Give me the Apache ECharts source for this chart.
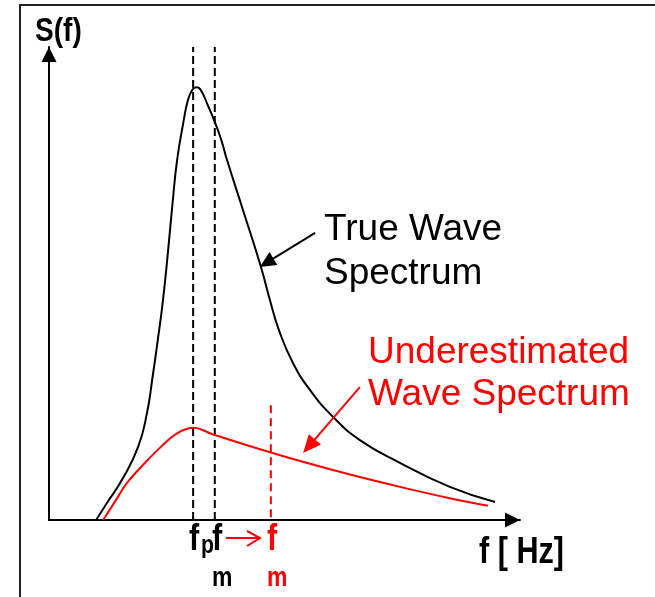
<!DOCTYPE html>
<html>
<head>
<meta charset="utf-8">
<title>S(f) spectrum</title>
<script src="https://cdn.jsdelivr.net/npm/echarts@6/dist/echarts.min.js"></script>
<style>
  html, body { margin: 0; padding: 0; background: #fff; }
  #chart { width: 655px; height: 597px; }
</style>
</head>
<body>
<div id="chart"></div>
<script>
// frequency (x) and spectral density (y), arbitrary units 0..100
const trueF = [10.0, 12.3, 15.5, 18.9, 20.8, 21.9, 23.1, 24.2, 25.3, 26.3, 27.2, 28.5, 29.5, 30.4, 31.2, 32.1, 33.8, 35.3, 36.6, 37.8, 41.2, 45.0, 46.9, 48.8, 51.8, 55.4, 60.3, 66.0, 74.5, 85.1, 94.7]
const trueS = [0, 3.6, 8.5, 15.4, 22.6, 29.6, 38.1, 46.5, 57.1, 67.7, 76.1, 83.9, 88.8, 90.9, 91.5, 91.1, 87.5, 83.9, 80.3, 76.1, 65.5, 53.5, 46.5, 40.2, 33.2, 27.5, 21.8, 16.9, 12.1, 7.0, 3.8]

const underF = [11.5, 14.2, 16.6, 20.4, 23.6, 27.2, 30.6, 34.8, 42.7, 53.9, 63.9, 74.5, 85.1, 93.2]
const underS = [0, 4.2, 7.9, 12.1, 15.3, 18.3, 19.5, 18.1, 15.6, 12.3, 9.6, 7.0, 4.6, 3.0]

// marker frequencies
const fp = 30.6
const fmTrue = 35.2
const fmUnder = 47.1
const fmUnderTop = 24.7

// annotation arrows [from, to] in data units
const trueArrow = [[56.5, 60.7], [46.2, 54.4]]
const underArrow = [[66.0, 28.1], [55.2, 15.6]]

const zip = (xs, ys) => xs.map((x, i) => [x, ys[i]])

const chart = echarts.init(document.getElementById('chart'))

const axisCommon = {
  type: 'value',
  min: 0,
  max: 100,
  axisLine: {
    show: true,
    lineStyle: { color: '#000', width: 2 },
    symbol: ['none', 'triangle'],
    symbolSize: [15, 15],
    symbolOffset: [0, -7.5]
  },
  axisTick: { show: false },
  axisLabel: { show: false },
  splitLine: { show: false }
}

const dashed = (x, y0, y1, color, dash) => ({
  type: 'line',
  data: [[x, y0], [x, y1]],
  symbol: 'none',
  silent: true,
  lineStyle: { color: color, width: 2, type: dash }
})

const bigFont = '37px "Liberation Sans", Arial, sans-serif'
// narrow bold look: Liberation Sans Bold squeezed horizontally
const narrow = (text, x, y, size, color) => ({
  type: 'text', x: x, y: y, scaleX: 0.85,
  style: { text: text, font: 'bold ' + size + 'px "Liberation Sans", Arial, sans-serif', fill: color, verticalAlign: 'middle' }
})

chart.setOption({
  animation: false,
  grid: { left: 49, right: 135, top: 47, bottom: 77 },
  xAxis: axisCommon,
  yAxis: axisCommon,
  series: [
    dashed(fp, 0, 100, '#000', [8, 4]),
    dashed(fmTrue, 0, 100, '#000', [8, 4]),
    dashed(fmUnder, 0.6, fmUnderTop, '#ff0000', [8, 5]),
    {
      name: 'True Wave Spectrum',
      type: 'line',
      data: zip(trueF, trueS),
      smooth: 0.5,
      symbol: 'none',
      lineStyle: { color: '#000', width: 2 },
      markLine: {
        silent: true,
        symbol: ['none', 'triangle'],
        symbolSize: [15, 16],
        label: { show: false },
        lineStyle: { color: '#000', width: 2, type: 'solid' },
        data: [[{ coord: trueArrow[0] }, { coord: trueArrow[1] }]]
      }
    },
    {
      name: 'Underestimated Wave Spectrum',
      type: 'line',
      data: zip(underF, underS),
      smooth: 0.4,
      symbol: 'none',
      lineStyle: { color: '#ff0000', width: 2 },
      markLine: {
        silent: true,
        symbol: ['none', 'triangle'],
        symbolSize: [16, 18],
        label: { show: false },
        lineStyle: { color: '#ff0000', width: 2, type: 'solid' },
        data: [[{ coord: underArrow[0] }, { coord: underArrow[1] }]]
      }
    }
  ],
  graphic: [
    // frame
    { type: 'polyline', shape: { points: [[20, 597], [20, 5], [655, 5]] }, style: { stroke: '#222', lineWidth: 2, fill: null } },
    // axis titles
    narrow('S(f)', 35, 32, 33, '#000'),
    narrow('f [ Hz]', 479, 553, 36, '#000'),
    // fp, fm -> fm
    narrow('f', 189, 540, 36, '#000'),
    narrow('p', 201, 546, 25, '#000'),
    narrow('f', 212, 540, 36, '#000'),
    narrow('m', 212, 579, 27, '#000'),
    { type: 'polyline', shape: { points: [[226, 538], [259, 538]] }, style: { stroke: '#ff0000', lineWidth: 2 } },
    { type: 'polyline', shape: { points: [[247, 531], [260, 538], [247, 546]] }, style: { stroke: '#ff0000', lineWidth: 2, fill: null } },
    narrow('f', 267, 540, 36, '#ff0000'),
    narrow('m', 267, 579, 27, '#ff0000'),
    // curve labels
    { type: 'text', x: 324, y: 230, style: { text: 'True Wave', font: bigFont, fill: '#000', verticalAlign: 'middle' } },
    { type: 'text', x: 324, y: 274, style: { text: 'Spectrum', font: bigFont, fill: '#000', verticalAlign: 'middle' } },
    { type: 'text', x: 368, y: 353, style: { text: 'Underestimated', font: bigFont, fill: '#ff0000', verticalAlign: 'middle' } },
    { type: 'text', x: 368, y: 395, style: { text: 'Wave Spectrum', font: bigFont, fill: '#ff0000', verticalAlign: 'middle' } }
  ]
})
</script>
</body>
</html>
